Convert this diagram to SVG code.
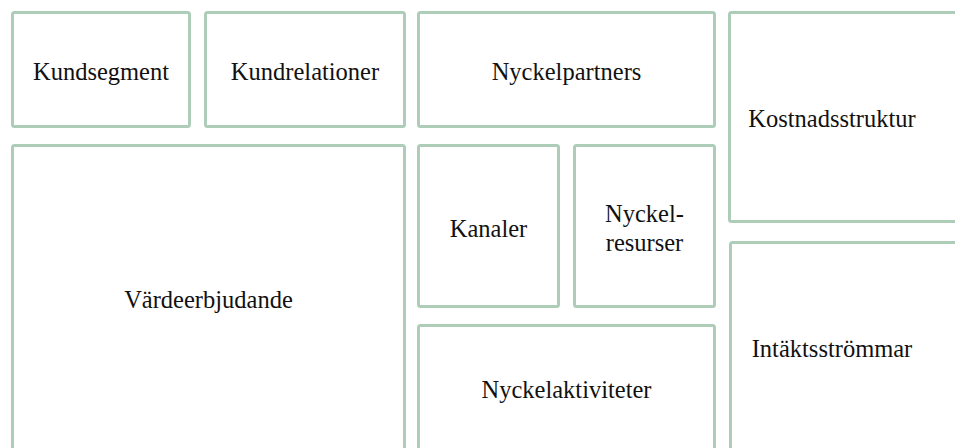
<svg xmlns="http://www.w3.org/2000/svg" width="955" height="448" viewBox="0 0 955 448">
<style>
.box{fill:#fff;stroke:#aecdb9;stroke-width:3}
.lbl{fill:#111;text-anchor:middle}
</style>
<rect width="955" height="448" fill="#fff"/>
<g id="kundsegment"><rect class="box" x="12.5" y="12.5" width="177" height="114" rx="2"/><text class="lbl" font-family="Times New Roman, serif" font-size="24.5" x="101" y="80">Kundsegment</text></g>
<g id="kundrelationer"><rect class="box" x="205.5" y="12.5" width="199" height="114" rx="2"/><text class="lbl" font-family="Times New Roman, serif" font-size="24.5" x="305" y="80">Kundrelationer</text></g>
<g id="vardeerbjudande"><rect class="box" x="12.5" y="145.5" width="392" height="320" rx="2"/><text class="lbl" font-family="Times New Roman, serif" font-size="24.5" x="208.5" y="308">Värdeerbjudande</text></g>
<g id="nyckelpartners"><rect class="box" x="418.5" y="12.5" width="296" height="114" rx="2"/><text class="lbl" font-family="Times New Roman, serif" font-size="24.5" x="566.5" y="80">Nyckelpartners</text></g>
<g id="kanaler"><rect class="box" x="418.5" y="145.5" width="140" height="161" rx="2"/><text class="lbl" font-family="Times New Roman, serif" font-size="24.5" x="488.5" y="237">Kanaler</text></g>
<g id="nyckelresurser"><rect class="box" x="574.5" y="145.5" width="140" height="161" rx="2"/><text class="lbl" font-family="Times New Roman, serif" font-size="24.5" x="644.5" y="222">Nyckel-</text><text class="lbl" font-family="Times New Roman, serif" font-size="24.5" x="644.5" y="251">resurser</text></g>
<g id="nyckelaktiviteter"><rect class="box" x="418.5" y="325.5" width="296" height="140" rx="2"/><text class="lbl" font-family="Times New Roman, serif" font-size="24.5" x="566.5" y="398">Nyckelaktiviteter</text></g>
<g id="kostnadsstruktur"><rect class="box" x="729.5" y="12.5" width="240" height="209" rx="2"/><text class="lbl" font-family="Times New Roman, serif" font-size="24.5" x="832" y="127">Kostnadsstruktur</text></g>
<g id="intaktsstrommar"><rect class="box" x="730.5" y="242.5" width="240" height="230" rx="2"/><text class="lbl" font-family="Times New Roman, serif" font-size="24.5" x="832" y="357">Intäktsströmmar</text></g>
<g id="connectors"/>
</svg>
